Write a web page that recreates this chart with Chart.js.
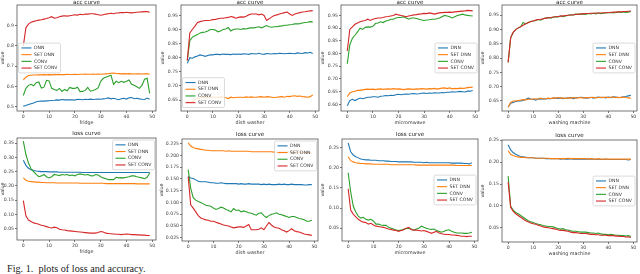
<!DOCTYPE html>
<html lang="en">
<head>
<meta charset="UTF-8">
<title>acc / loss curves</title>
<script src="https://cdn.jsdelivr.net/npm/chart.js"></script>
<style>
  html, body { margin: 0; padding: 0; background: #fff; }
  #page { position: relative; width: 640px; height: 274px; overflow: hidden; }
  #page canvas { position: absolute; }
  #caption {
    position: absolute; left: 7px; top: 263px;
    font-family: "Liberation Serif", serif; font-size: 10.2px; line-height: 12px;
    color: #222; white-space: pre;
  }
</style>
</head>
<body>
<div id="page">
  <div id="caption">Fig. 1.  plots of loss and accuracy.</div>
</div>

<script>
// ---- data ----
const epochs = [0,1,2,3,4,5,6,7,8,9,10,11,12,13,14,15,16,17,18,19,20,21,22,23,24,25,26,27,28,29,30,31,32,33,34,35,36,37,38,39,40,41,42,43,44,45,46,47,48,49];
const seriesNames = ['DNN', 'SET DNN', 'CONV', 'SET CONV'];
const xTicks = [0, 10, 20, 30, 40, 50];

// fridge - accuracy
const fridgeAccDnn = [0.502,0.505,0.51,0.514,0.518,0.524,0.526,0.527,0.527,0.528, 0.529,0.53,0.531,0.533,0.532,0.535,0.533,0.534,0.533,0.534, 0.532,0.536,0.535,0.534,0.536,0.535,0.537,0.535,0.536,0.537, 0.536,0.538,0.54,0.543,0.538,0.541,0.537,0.534,0.539,0.541, 0.537,0.543,0.545,0.539,0.541,0.538,0.536,0.535,0.542,0.536];
const fridgeAccSetDnn = [0.632,0.645,0.654,0.655,0.656,0.656,0.657,0.657,0.658,0.657, 0.658,0.657,0.658,0.659,0.658,0.659,0.658,0.66,0.659,0.659, 0.66,0.659,0.66,0.66,0.661,0.66,0.66,0.661,0.66,0.661, 0.66,0.661,0.662,0.663,0.665,0.666,0.664,0.663,0.662,0.663, 0.662,0.663,0.662,0.661,0.662,0.662,0.661,0.662,0.662,0.661];
const fridgeAccConv = [0.555,0.59,0.605,0.61,0.603,0.618,0.622,0.592,0.596,0.63, 0.627,0.59,0.585,0.58,0.59,0.575,0.585,0.578,0.595,0.59, 0.59,0.596,0.574,0.575,0.58,0.595,0.576,0.58,0.585,0.592, 0.625,0.64,0.645,0.65,0.655,0.61,0.625,0.618,0.625,0.62, 0.625,0.632,0.61,0.605,0.598,0.59,0.605,0.635,0.64,0.565];
const fridgeAccSetConv = [0.8,0.89,0.908,0.918,0.922,0.925,0.928,0.93,0.933,0.936, 0.94,0.945,0.938,0.94,0.945,0.948,0.95,0.948,0.95,0.952, 0.955,0.953,0.957,0.955,0.958,0.958,0.96,0.96,0.958,0.955, 0.952,0.955,0.958,0.96,0.962,0.96,0.963,0.964,0.966,0.965, 0.967,0.965,0.964,0.966,0.967,0.968,0.969,0.97,0.97,0.967];

// dish washer - accuracy
const dishAccDnn = [0.78,0.8,0.798,0.803,0.806,0.81,0.808,0.805,0.808,0.81, 0.81,0.812,0.812,0.811,0.813,0.812,0.812,0.811,0.813,0.812, 0.813,0.812,0.814,0.813,0.812,0.815,0.814,0.813,0.816,0.813, 0.812,0.815,0.814,0.813,0.815,0.814,0.816,0.815,0.814,0.815, 0.816,0.815,0.814,0.817,0.816,0.815,0.818,0.817,0.819,0.815];
const dishAccSetDnn = [0.648,0.64,0.645,0.652,0.655,0.657,0.66,0.658,0.66,0.659, 0.66,0.66,0.659,0.661,0.66,0.658,0.655,0.66,0.658,0.659, 0.66,0.66,0.659,0.661,0.66,0.661,0.66,0.66,0.661,0.662, 0.66,0.662,0.661,0.66,0.659,0.66,0.661,0.662,0.66,0.663, 0.662,0.664,0.665,0.663,0.664,0.662,0.661,0.66,0.662,0.668];
const dishAccConv = [0.79,0.86,0.873,0.878,0.882,0.888,0.89,0.891,0.895,0.9, 0.9,0.898,0.892,0.895,0.9,0.902,0.907,0.895,0.9,0.902, 0.902,0.9,0.903,0.902,0.905,0.906,0.906,0.908,0.91,0.906, 0.91,0.914,0.91,0.908,0.91,0.91,0.912,0.913,0.915,0.915, 0.917,0.918,0.92,0.92,0.921,0.923,0.925,0.926,0.928,0.927];
const dishAccSetConv = [0.79,0.888,0.9,0.912,0.925,0.928,0.93,0.932,0.932,0.933, 0.935,0.936,0.938,0.94,0.94,0.942,0.943,0.946,0.944,0.94, 0.943,0.945,0.944,0.947,0.952,0.955,0.955,0.955,0.952,0.955, 0.95,0.932,0.938,0.945,0.95,0.952,0.955,0.958,0.96,0.962, 0.955,0.95,0.955,0.958,0.96,0.962,0.963,0.965,0.966,0.967];

// microwave - accuracy
const micAccDnn = [0.595,0.615,0.62,0.615,0.62,0.625,0.622,0.625,0.628,0.628, 0.63,0.63,0.628,0.632,0.633,0.635,0.634,0.636,0.635,0.638, 0.64,0.638,0.64,0.641,0.64,0.642,0.643,0.641,0.642,0.644, 0.645,0.643,0.645,0.644,0.646,0.645,0.645,0.647,0.646,0.648, 0.648,0.65,0.649,0.65,0.651,0.65,0.649,0.652,0.652,0.655];
const micAccSetDnn = [0.63,0.645,0.65,0.652,0.655,0.655,0.657,0.659,0.66,0.659, 0.66,0.658,0.66,0.661,0.659,0.66,0.661,0.66,0.662,0.66, 0.661,0.66,0.658,0.66,0.661,0.66,0.659,0.661,0.66,0.662, 0.661,0.66,0.662,0.661,0.663,0.66,0.662,0.664,0.665,0.662, 0.665,0.661,0.663,0.662,0.664,0.663,0.664,0.666,0.667,0.668];
const micAccConv = [0.76,0.835,0.86,0.872,0.885,0.9,0.895,0.903,0.905,0.904, 0.907,0.918,0.92,0.925,0.922,0.928,0.93,0.935,0.935,0.94, 0.942,0.942,0.945,0.94,0.935,0.94,0.94,0.938,0.935,0.932, 0.93,0.932,0.933,0.935,0.935,0.937,0.94,0.945,0.95,0.948, 0.945,0.94,0.945,0.95,0.952,0.955,0.952,0.95,0.949,0.948];
const micAccSetConv = [0.81,0.895,0.905,0.915,0.92,0.925,0.928,0.93,0.935,0.93, 0.935,0.938,0.94,0.94,0.942,0.945,0.946,0.948,0.95,0.955, 0.952,0.95,0.948,0.945,0.948,0.95,0.952,0.953,0.955,0.956, 0.958,0.957,0.96,0.958,0.955,0.958,0.96,0.961,0.962,0.962, 0.963,0.962,0.964,0.965,0.966,0.967,0.968,0.97,0.969,0.968];

// washing machine - accuracy
const washAccDnn = [0.628,0.642,0.645,0.648,0.65,0.65,0.652,0.655,0.66,0.657, 0.656,0.653,0.658,0.656,0.658,0.657,0.659,0.658,0.66,0.66, 0.659,0.661,0.658,0.66,0.66,0.662,0.658,0.661,0.662,0.663, 0.662,0.66,0.661,0.663,0.66,0.662,0.664,0.662,0.663,0.661, 0.664,0.662,0.665,0.664,0.662,0.663,0.665,0.666,0.668,0.67];
const washAccSetDnn = [0.628,0.645,0.65,0.65,0.652,0.653,0.655,0.654,0.656,0.656, 0.657,0.658,0.656,0.66,0.657,0.658,0.66,0.659,0.661,0.66, 0.662,0.66,0.661,0.659,0.661,0.66,0.662,0.66,0.661,0.662, 0.66,0.662,0.661,0.662,0.663,0.661,0.662,0.663,0.662,0.664, 0.662,0.663,0.664,0.662,0.663,0.662,0.664,0.662,0.661,0.66];
const washAccConv = [0.785,0.87,0.89,0.9,0.905,0.91,0.925,0.92,0.925,0.928, 0.93,0.932,0.935,0.933,0.938,0.94,0.942,0.94,0.943,0.945, 0.944,0.948,0.945,0.948,0.95,0.952,0.95,0.955,0.953,0.954, 0.955,0.953,0.956,0.955,0.957,0.955,0.958,0.956,0.957,0.958, 0.959,0.96,0.958,0.96,0.962,0.96,0.962,0.96,0.961,0.963];
const washAccSetConv = [0.785,0.872,0.89,0.9,0.906,0.91,0.915,0.92,0.924,0.928, 0.93,0.933,0.935,0.936,0.938,0.94,0.941,0.942,0.944,0.945, 0.946,0.947,0.948,0.949,0.95,0.951,0.952,0.953,0.954,0.955, 0.955,0.956,0.956,0.957,0.957,0.958,0.958,0.958,0.959,0.959, 0.96,0.96,0.961,0.961,0.962,0.962,0.963,0.963,0.964,0.965];

// fridge - loss
const fridgeLossDnn = [0.29,0.272,0.262,0.257,0.254,0.252,0.251,0.25,0.25,0.25, 0.249,0.249,0.249,0.249,0.248,0.248,0.248,0.248,0.248,0.248, 0.248,0.248,0.248,0.247,0.247,0.247,0.247,0.247,0.247,0.247, 0.247,0.247,0.247,0.247,0.247,0.247,0.247,0.247,0.247,0.247, 0.247,0.247,0.247,0.247,0.247,0.247,0.247,0.247,0.247,0.247];
const fridgeLossSetDnn = [0.228,0.22,0.216,0.215,0.214,0.213,0.213,0.212,0.212,0.211, 0.211,0.211,0.211,0.21,0.21,0.21,0.21,0.21,0.21,0.21, 0.21,0.21,0.209,0.209,0.209,0.209,0.209,0.209,0.209,0.209, 0.209,0.209,0.208,0.208,0.208,0.208,0.208,0.208,0.208,0.208, 0.208,0.208,0.208,0.208,0.207,0.207,0.207,0.207,0.207,0.207];
const fridgeLossConv = [0.357,0.31,0.28,0.26,0.25,0.24,0.232,0.235,0.24,0.232, 0.228,0.232,0.24,0.238,0.236,0.24,0.238,0.24,0.236,0.238, 0.235,0.24,0.242,0.24,0.238,0.24,0.236,0.235,0.24,0.238, 0.232,0.228,0.225,0.222,0.222,0.222,0.23,0.228,0.229,0.228, 0.23,0.232,0.235,0.235,0.232,0.23,0.228,0.225,0.23,0.245];
const fridgeLossSetConv = [0.148,0.095,0.08,0.075,0.07,0.068,0.065,0.062,0.06,0.057, 0.054,0.052,0.055,0.053,0.048,0.046,0.045,0.043,0.042,0.041, 0.04,0.039,0.038,0.037,0.036,0.035,0.034,0.034,0.034,0.036, 0.04,0.038,0.034,0.033,0.032,0.031,0.03,0.03,0.029,0.03, 0.031,0.03,0.029,0.029,0.028,0.028,0.027,0.027,0.026,0.026];

// dish washer - loss
const dishLossDnn = [0.155,0.152,0.151,0.148,0.145,0.144,0.144,0.144,0.143,0.142, 0.142,0.141,0.141,0.142,0.141,0.14,0.14,0.14,0.14,0.14, 0.139,0.14,0.139,0.139,0.14,0.139,0.139,0.139,0.139,0.138, 0.139,0.138,0.139,0.138,0.138,0.138,0.139,0.138,0.139,0.138, 0.138,0.139,0.138,0.138,0.138,0.138,0.137,0.137,0.138,0.138];
const dishLossSetDnn = [0.227,0.22,0.217,0.215,0.214,0.213,0.212,0.211,0.211,0.21, 0.21,0.21,0.21,0.21,0.21,0.209,0.21,0.209,0.209,0.209, 0.209,0.209,0.209,0.209,0.209,0.208,0.208,0.208,0.208,0.208, 0.208,0.208,0.208,0.208,0.207,0.207,0.207,0.207,0.207,0.207, 0.207,0.207,0.207,0.207,0.207,0.206,0.206,0.206,0.206,0.206];
const dishLossConv = [0.17,0.13,0.11,0.105,0.102,0.1,0.097,0.094,0.093,0.092, 0.088,0.085,0.087,0.09,0.088,0.085,0.083,0.08,0.087,0.083, 0.084,0.08,0.082,0.08,0.078,0.077,0.075,0.073,0.077,0.078, 0.072,0.068,0.072,0.075,0.076,0.078,0.075,0.074,0.072,0.07, 0.068,0.07,0.07,0.068,0.066,0.065,0.063,0.06,0.06,0.062];
const dishLossSetConv = [0.155,0.095,0.088,0.08,0.072,0.067,0.065,0.063,0.062,0.06, 0.06,0.058,0.056,0.054,0.052,0.051,0.05,0.048,0.046,0.047, 0.048,0.048,0.047,0.05,0.053,0.042,0.042,0.042,0.043,0.046, 0.042,0.05,0.057,0.052,0.048,0.046,0.045,0.042,0.04,0.037, 0.04,0.044,0.04,0.038,0.037,0.035,0.033,0.032,0.031,0.03];

// microwave - loss
const micLossDnn = [0.262,0.24,0.232,0.228,0.225,0.222,0.221,0.22,0.22,0.219, 0.219,0.219,0.218,0.218,0.218,0.217,0.217,0.216,0.216,0.216, 0.215,0.215,0.215,0.215,0.215,0.215,0.214,0.214,0.214,0.214, 0.213,0.214,0.213,0.213,0.213,0.213,0.213,0.213,0.213,0.213, 0.213,0.212,0.212,0.212,0.212,0.212,0.211,0.211,0.21,0.213];
const micLossSetDnn = [0.228,0.218,0.215,0.213,0.212,0.211,0.211,0.21,0.21,0.21, 0.209,0.209,0.209,0.209,0.209,0.209,0.209,0.208,0.208,0.208, 0.208,0.208,0.208,0.208,0.208,0.208,0.208,0.207,0.207,0.207, 0.207,0.207,0.207,0.207,0.207,0.207,0.207,0.207,0.207,0.207, 0.207,0.207,0.207,0.206,0.206,0.206,0.206,0.206,0.206,0.206];
const micLossConv = [0.188,0.14,0.105,0.09,0.08,0.075,0.077,0.072,0.07,0.072, 0.068,0.06,0.06,0.058,0.057,0.057,0.052,0.05,0.048,0.045, 0.044,0.045,0.047,0.049,0.05,0.048,0.045,0.048,0.05,0.055, 0.052,0.05,0.048,0.047,0.048,0.044,0.042,0.04,0.042,0.045, 0.046,0.042,0.04,0.038,0.038,0.038,0.037,0.037,0.038,0.04];
const micLossSetConv = [0.148,0.095,0.085,0.078,0.072,0.068,0.065,0.064,0.06,0.062, 0.058,0.055,0.054,0.053,0.052,0.05,0.048,0.047,0.045,0.044, 0.042,0.044,0.046,0.05,0.052,0.046,0.045,0.045,0.044,0.043, 0.044,0.042,0.04,0.037,0.04,0.042,0.038,0.036,0.035,0.034, 0.034,0.033,0.033,0.032,0.031,0.03,0.03,0.029,0.03,0.03];

// washing machine - loss
const washLossDnn = [0.24,0.228,0.222,0.218,0.215,0.213,0.212,0.211,0.21,0.21, 0.21,0.209,0.209,0.209,0.209,0.208,0.208,0.208,0.208,0.208, 0.208,0.207,0.208,0.207,0.207,0.208,0.207,0.207,0.207,0.207, 0.207,0.207,0.207,0.207,0.207,0.206,0.207,0.206,0.206,0.207, 0.206,0.206,0.206,0.206,0.206,0.206,0.206,0.206,0.205,0.206];
const washLossSetDnn = [0.226,0.218,0.215,0.213,0.212,0.211,0.211,0.21,0.21,0.21, 0.21,0.209,0.209,0.209,0.209,0.209,0.209,0.208,0.208,0.208, 0.208,0.208,0.208,0.208,0.209,0.208,0.208,0.208,0.208,0.208, 0.208,0.208,0.207,0.208,0.207,0.207,0.208,0.207,0.207,0.207, 0.207,0.207,0.207,0.207,0.207,0.207,0.207,0.207,0.207,0.207];
const washLossConv = [0.168,0.1,0.09,0.085,0.082,0.078,0.074,0.07,0.066,0.064, 0.062,0.06,0.058,0.057,0.055,0.054,0.053,0.053,0.052,0.05, 0.048,0.047,0.048,0.045,0.045,0.043,0.042,0.042,0.041,0.04, 0.04,0.04,0.039,0.038,0.038,0.037,0.038,0.036,0.035,0.035, 0.034,0.035,0.034,0.033,0.033,0.032,0.032,0.031,0.032,0.03];
const washLossSetConv = [0.155,0.097,0.088,0.082,0.078,0.074,0.07,0.066,0.064,0.061, 0.059,0.058,0.056,0.054,0.052,0.051,0.05,0.049,0.048,0.047, 0.045,0.044,0.044,0.043,0.042,0.04,0.039,0.039,0.038,0.037, 0.037,0.037,0.036,0.035,0.035,0.034,0.034,0.033,0.033,0.033, 0.032,0.032,0.032,0.031,0.031,0.03,0.03,0.029,0.029,0.028];

// y tick values per panel
const ticksFridgeAcc = [0.5, 0.6, 0.7, 0.8, 0.9];
const ticksDishAcc = [0.65, 0.70, 0.75, 0.80, 0.85, 0.90, 0.95];
const ticksMicAcc = [0.60, 0.65, 0.70, 0.75, 0.80, 0.85, 0.90, 0.95];
const ticksWashAcc = [0.65, 0.70, 0.75, 0.80, 0.85, 0.90, 0.95];
const ticksFridgeLoss = [0.05, 0.10, 0.15, 0.20, 0.25, 0.30, 0.35];
const ticksDishLoss = [0.025, 0.050, 0.075, 0.100, 0.125, 0.150, 0.175, 0.200, 0.225];
const ticksMicLoss = [0.05, 0.10, 0.15, 0.20, 0.25];
const ticksWashLoss = [0.05, 0.10, 0.15, 0.20, 0.25];

// ---- styling / layout ----
const colors = ['#1f77b4', '#ff7f0e', '#2ca02c', '#d62728'];
const FONT = 'DejaVu Sans';

// rect = plot frame [left, top, right, bottom] in page pixels
const panels = [
  { title: 'acc curve', xLabel: 'fridge', series: [fridgeAccDnn, fridgeAccSetDnn, fridgeAccConv, fridgeAccSetConv],
    yTicks: ticksFridgeAcc, dec: 1, yMin: 0.478, yMax: 1.003, rect: [17, 5, 156, 111], yGap: 14, legend: 'cl', row: 0 },
  { title: 'acc curve', xLabel: 'dish washer', series: [dishAccDnn, dishAccSetDnn, dishAccConv, dishAccSetConv],
    yTicks: ticksDishAcc, dec: 2, yMin: 0.611, yMax: 0.987, rect: [181, 5, 319, 111], yGap: 18, legend: 'll', row: 0 },
  { title: 'acc curve', xLabel: 'micromwave', series: [micAccDnn, micAccSetDnn, micAccConv, micAccSetConv],
    yTicks: ticksMicAcc, dec: 2, yMin: 0.574, yMax: 0.991, rect: [341, 5, 479, 111], yGap: 18, legend: 'cr', row: 0 },
  { title: 'acc curve', xLabel: 'washing machine', series: [washAccDnn, washAccSetDnn, washAccConv, washAccSetConv],
    yTicks: ticksWashAcc, dec: 2, yMin: 0.615, yMax: 0.986, rect: [502, 5, 637, 111], yGap: 19, legend: 'cr', row: 0 },
  { title: 'loss curve', xLabel: 'fridge', series: [fridgeLossDnn, fridgeLossSetDnn, fridgeLossConv, fridgeLossSetConv],
    yTicks: ticksFridgeLoss, dec: 2, yMin: 0.01, yMax: 0.368, rect: [17, 138, 156, 240], yGap: 14, legend: 'ur', row: 1 },
  { title: 'loss curve', xLabel: 'dish washer', series: [dishLossDnn, dishLossSetDnn, dishLossConv, dishLossSetConv],
    yTicks: ticksDishLoss, dec: 3, yMin: 0.018, yMax: 0.235, rect: [182, 139, 318, 241], yGap: 20, legend: 'ur', row: 1 },
  { title: 'loss curve', xLabel: 'micromwave', series: [micLossDnn, micLossSetDnn, micLossConv, micLossSetConv],
    yTicks: ticksMicLoss, dec: 2, yMin: 0.018, yMax: 0.272, rect: [342, 139, 478, 241], yGap: 19, legend: 'cr', row: 1 },
  { title: 'loss curve', xLabel: 'washing machine', series: [washLossDnn, washLossSetDnn, washLossConv, washLossSetConv],
    yTicks: ticksWashLoss, dec: 2, yMin: 0.0175, yMax: 0.2506, rect: [502, 140, 637, 242], yGap: 19, legend: 'cr', row: 1 }
];

// axes frame (matplotlib draws all four spines)
const framePlugin = {
  id: 'frame',
  afterDatasetsDraw(chart) {
    const { ctx, chartArea: a } = chart;
    ctx.save();
    ctx.strokeStyle = '#555';
    ctx.lineWidth = 0.8;
    ctx.strokeRect(a.left, a.top, a.right - a.left, a.bottom - a.top);
    ctx.restore();
  }
};

// matplotlib style legend box inside the axes
const boxLegend = {
  id: 'boxLegend',
  afterDraw(chart, args, opts) {
    const { ctx, chartArea: a } = chart;
    const sets = chart.data.datasets;
    ctx.save();
    ctx.font = '4.6px "' + FONT + '"';
    const textW = Math.max(...sets.map(d => ctx.measureText(d.label).width));
    const rowH = 6.7;
    const w = 15.5 + textW + 3;
    const h = rowH * sets.length + 3;
    let x, y;
    if (opts.anchor === 'cl') { x = a.left + 1.5; y = (a.top + a.bottom - h) / 2; }
    else if (opts.anchor === 'll') { x = a.left + 1.5; y = a.bottom - 3.5 - h; }
    else if (opts.anchor === 'ur') { x = a.right - 1.5 - w; y = a.top + 2; }
    else { x = a.right - 2 - w; y = (a.top + a.bottom - h) / 2; }

    ctx.fillStyle = 'rgba(255,255,255,0.8)';
    ctx.strokeStyle = '#d2d2d2';
    ctx.lineWidth = 0.8;
    ctx.beginPath();
    ctx.roundRect(x, y, w, h, 1.5);
    ctx.fill();
    ctx.stroke();

    ctx.textBaseline = 'middle';
    sets.forEach((d, i) => {
      const cy = y + 1.5 + rowH * (i + 0.5);
      ctx.strokeStyle = d.borderColor;
      ctx.lineWidth = 1.1;
      ctx.beginPath();
      ctx.moveTo(x + 3, cy);
      ctx.lineTo(x + 13, cy);
      ctx.stroke();
      ctx.fillStyle = '#333';
      ctx.fillText(d.label, x + 15.5, cy);
    });
    ctx.restore();
  }
};

const page = document.getElementById('page');

panels.forEach(p => {
  const [L, T, R, B] = p.rect;
  const padL = p.yGap + 3;          // y title centre sits yGap left of frame
  const padT = p.row === 0 ? 5 : 7; // title row
  const padB = 15;                  // tick labels + x title
  const padR = 2;

  const canvas = document.createElement('canvas');
  canvas.width = R - L + padL + padR;
  canvas.height = B - T + padT + padB;
  canvas.style.left = (L - padL) + 'px';
  canvas.style.top = (T - padT) + 'px';
  page.appendChild(canvas);

  const datasets = p.series.map((vals, i) => ({
    label: seriesNames[i],
    data: epochs.map((e, k) => ({ x: e, y: vals[k] })),
    borderColor: colors[i],
    borderWidth: 1.1,
    pointRadius: 0,
    tension: 0,
    fill: false,
    order: 4 - i
  }));

  new Chart(canvas, {
    type: 'line',
    data: { datasets },
    options: {
      responsive: false,
      animation: false,
      devicePixelRatio: 1,
      layout: { padding: { left: 0, top: 0, right: padR, bottom: 0 } },
      plugins: {
        legend: { display: false },
        tooltip: { enabled: false },
        title: {
          display: true,
          text: p.title,
          fullSize: false,
          color: '#222',
          font: { family: FONT, size: 5.6, weight: 'normal', lineHeight: '5px' },
          padding: { top: 0, bottom: padT - 5 }
        },
        boxLegend: { anchor: p.legend }
      },
      scales: {
        x: {
          type: 'linear',
          min: -2.45,
          max: 51.45,
          afterBuildTicks: s => { s.ticks = xTicks.map(v => ({ value: v })); },
          afterFit: s => { s.height = padB; },
          ticks: {
            autoSkip: false, maxRotation: 0, padding: 1,
            color: '#444', font: { family: FONT, size: 4.6 },
            callback: v => String(v)
          },
          grid: { drawOnChartArea: false, drawTicks: true, tickLength: 2, color: '#555', lineWidth: 0.8 },
          border: { display: false },
          title: {
            display: true, text: p.xLabel, color: '#333', padding: 0,
            font: { family: FONT, size: 4.8, lineHeight: '6px' }
          }
        },
        y: {
          min: p.yMin,
          max: p.yMax,
          afterBuildTicks: s => { s.ticks = p.yTicks.map(v => ({ value: v })); },
          afterFit: s => { s.width = padL; },
          ticks: {
            padding: 1,
            color: '#444', font: { family: FONT, size: 4.6 },
            callback: v => Number(v).toFixed(p.dec)
          },
          grid: { drawOnChartArea: false, drawTicks: true, tickLength: 2, color: '#555', lineWidth: 0.8 },
          border: { display: false },
          title: {
            display: true, text: 'value', color: '#333', padding: 0,
            font: { family: FONT, size: 4.8, lineHeight: '6px' }
          }
        }
      }
    },
    plugins: [framePlugin, boxLegend]
  });
});
</script>
</body>
</html>
